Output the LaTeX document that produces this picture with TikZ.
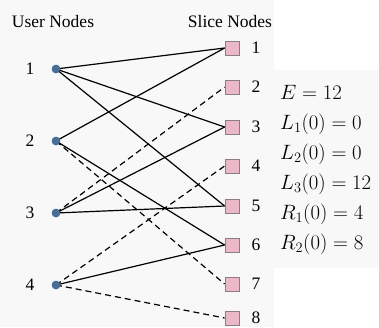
\documentclass[tikz,border=0pt]{standalone}
\usepackage{fontspec}
\setmainfont{Liberation Serif}
\definecolor{bgc}{HTML}{F8F8F8}
\definecolor{dotc}{HTML}{4A6E96}
\definecolor{sqc}{HTML}{EBB8C8}
\definecolor{sqb}{HTML}{8C7C84}
\begin{document}
\begin{tikzpicture}[x=1pt,y=-1pt,
  user/.style={circle,fill=dotc,inner sep=0pt,minimum size=8.5pt},
  slice/.style={rectangle,fill=sqc,draw=sqb,line width=0.8pt,inner sep=0pt,minimum size=14pt},
  lbl/.style={font=\fontsize{17.5}{20}\selectfont,inner sep=0pt},
  eq/.style={font=\fontsize{19.5}{22}\selectfont,inner sep=0pt,anchor=base west},
  edge/.style={line width=1.2pt,black},
  dedge/.style={edge,dash pattern=on 6pt off 4pt}]
\fill[bgc] (0,0) rectangle (379,327);
\fill[white] (274,0) rectangle (379,70);
\fill[white] (274,268) rectangle (379,327);
\useasboundingbox (0,0) rectangle (379,327);
\node[lbl] (ut) at (53,22) {User Nodes};
\node[lbl] (st) at (230,22) {Slice Nodes};
\foreach \i/\y in {1/69,2/141,3/213,4/285}{
  \node[user] (u\i) at (56,\y) {};
  \node[lbl] (ul\i) at (30,\y) {\i};
}
\foreach \i/\y in {1/48,2/87,3/127,4/166,5/206,6/245,7/284,8/318}{
  \node[slice] (s\i) at (232,\y) {};
  \node[lbl] (sl\i) at (256,\y) {\i};
}
\draw[edge] (u1.center) -- (s1.west);
\draw[edge] (u1.center) -- (s3.west);
\draw[edge] (u1.center) -- (s5.west);
\draw[edge] (u2.center) -- (s1.west);
\draw[edge] (u2.center) -- (s6.west);
\draw[dedge] (u2.center) -- (s7.west);
\draw[dedge] (u3.center) -- (s2.west);
\draw[edge] (u3.center) -- (s3.west);
\draw[edge] (u3.center) -- (s5.west);
\draw[dedge] (u4.center) -- (s4.west);
\draw[edge] (u4.center) -- (s6.west);
\draw[dedge] (u4.center) -- (s8.west);
\foreach \i in {1,...,4}{\node[user] at (u\i) {};}
\node[eq] (e0) at (280,99) {$E=12$};
\node[eq] (e1) at (280,129) {$L_1(0)=0$};
\node[eq] (e2) at (280,159) {$L_2(0)=0$};
\node[eq] (e3) at (280,189) {$L_3(0)=12$};
\node[eq] (e4) at (280,219) {$R_1(0)=4$};
\node[eq] (e5) at (280,249) {$R_2(0)=8$};
\end{tikzpicture}
\end{document}
